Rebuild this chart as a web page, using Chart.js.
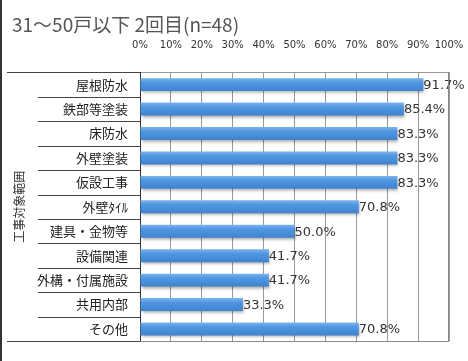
<!DOCTYPE html>
<html>
<head>
<meta charset="utf-8">
<script src="https://cdn.jsdelivr.net/npm/chart.js@4/dist/chart.umd.min.js"></script>
<style>
  html, body { margin: 0; padding: 0; background: #fff; }
  #wrap { width: 466px; height: 361px; border-left: 2px solid #333; }
</style>
</head>
<body>
<div id="wrap"><canvas id="rangeChart" width="466" height="361"></canvas></div>
<script>
var titleText = '31～50戸以下 2回目(n=48)';
var axisTitle = '工事対象範囲';
var categories = ['屋根防水', '鉄部等塗装', '床防水', '外壁塗装', '仮設工事', '外壁ﾀｲﾙ', '建具・金物等', '設備関連', '外構・付属施設', '共用内部', 'その他'];
var percents = [91.7, 85.4, 83.3, 83.3, 83.3, 70.8, 50.0, 41.7, 41.7, 33.3, 70.8];
var tickStep = 10;
var tickMax = 100;

// blue bar with a lighter top edge
function barFill(context) {
    var chart = context.chart;
    if (!chart.chartArea || !chart.scales.y) return '#4a90dc';
    var yScale = chart.scales.y;
    var cy = yScale.getPixelForValue(context.dataIndex);
    var half = 7;
    var g = chart.ctx.createLinearGradient(0, cy - half, 0, cy + half);
    g.addColorStop(0, '#80b8ef');
    g.addColorStop(0.35, '#5197e0');
    g.addColorStop(1, '#3e82cf');
    return g;
}

// left-hand table lines and the plot frame
var tableLines = {
    id: 'tableLines',
    afterDraw: function(chart) {
        var ctx = chart.ctx;
        var area = chart.chartArea;
        var yScale = chart.scales.y;
        var n = categories.length;
        var step = (yScale.bottom - yScale.top) / n;
        ctx.save();
        ctx.lineWidth = 1;
        ctx.strokeStyle = '#444';
        for (var i = 0; i <= n; i++) {
            var y = Math.round(yScale.top + i * step) + 0.5;
            var x0 = (i === 0 || i === n) ? 5 : 36;
            ctx.beginPath();
            ctx.moveTo(x0, y);
            ctx.lineTo(area.left, y);
            ctx.stroke();
        }
        // right and bottom edges of the plot
        var top = Math.round(area.top);
        var bottom = Math.round(area.bottom);
        var right = Math.floor(area.right) - 1;
        ctx.fillStyle = '#888';
        ctx.fillRect(right, top, 1, bottom - top + 1);
        ctx.fillRect(area.left, bottom, right - area.left + 1, 1);
        ctx.restore();
    }
};

// soft shadow under bars, then the value labels
var barLabels = {
    id: 'barLabels',
    beforeDatasetsDraw: function(chart) {
        var ctx = chart.ctx;
        ctx.save();
        ctx.shadowColor = 'rgba(0,0,0,0.35)';
        ctx.shadowBlur = 3;
        ctx.shadowOffsetX = 1;
        ctx.shadowOffsetY = 2;
    },
    afterDatasetsDraw: function(chart) {
        var ctx = chart.ctx;
        ctx.restore();
        var meta = chart.getDatasetMeta(0);
        ctx.save();
        ctx.font = '13px "DejaVu Sans"';
        ctx.fillStyle = '#333';
        ctx.textAlign = 'left';
        ctx.textBaseline = 'middle';
        meta.data.forEach(function(bar, i) {
            ctx.fillText(percents[i].toFixed(1) + '%', bar.x, bar.y + 1);
        });
        ctx.restore();
    }
};

var ctxRange = document.getElementById('rangeChart').getContext('2d');
var rangeChart = new Chart(ctxRange, {
    type: 'bar',
    data: {
        labels: categories,
        datasets: [{
            data: percents,
            backgroundColor: barFill,
            borderWidth: 0,
            barPercentage: 0.53,
            categoryPercentage: 1.0
        }]
    },
    options: {
        indexAxis: 'y',
        responsive: false,
        animation: false,
        layout: {
            padding: { left: 10, right: 19, top: 0, bottom: 9 }
        },
        scales: {
            x: {
                position: 'top',
                min: 0,
                max: tickMax,
                afterFit: function(scale) {
                    scale.height = 33.6;
                    scale.paddingLeft = 0;
                    scale.paddingRight = 0;
                },
                ticks: {
                    stepSize: tickStep,
                    padding: 21,
                    autoSkip: false,
                    maxRotation: 0,
                    minRotation: 0,
                    color: '#333',
                    font: { family: 'DejaVu Sans', size: 10 },
                    callback: function(v) { return v + '%'; }
                },
                grid: {
                    color: '#999',
                    drawTicks: false
                },
                border: { color: '#999' }
            },
            y: {
                afterFit: function(scale) { scale.width = 128; },
                ticks: {
                    padding: 12,
                    color: '#222',
                    font: { family: 'Noto Sans CJK JP', size: 13 }
                },
                grid: {
                    display: false,
                    drawTicks: false
                },
                border: { display: true, color: '#333' },
                title: {
                    display: true,
                    text: axisTitle,
                    color: '#333',
                    padding: { top: 0, bottom: 0 },
                    font: { family: 'Noto Sans CJK JP', size: 12 }
                }
            }
        },
        plugins: {
            legend: { display: false },
            tooltip: { enabled: false },
            title: {
                display: true,
                text: titleText,
                align: 'start',
                color: '#555',
                padding: { top: 13, bottom: 3 },
                font: { family: 'Noto Sans CJK JP', size: 19, weight: 'normal' }
            }
        }
    },
    plugins: [tableLines, barLabels]
});
</script>
</body>
</html>
